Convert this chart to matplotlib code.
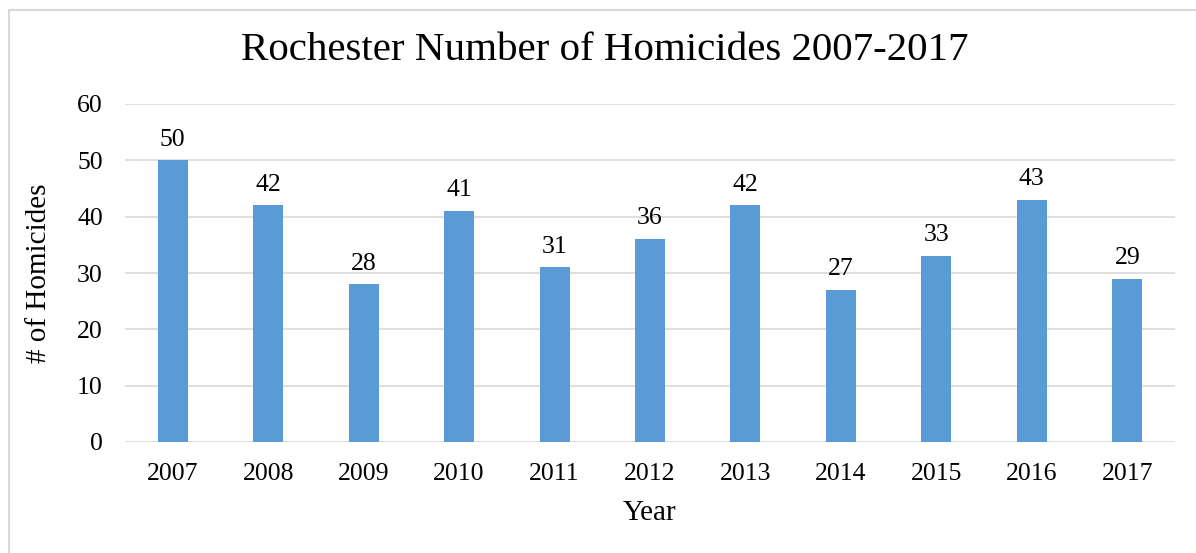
import matplotlib
matplotlib.use('Agg')
import matplotlib.pyplot as plt
from matplotlib.patches import Rectangle

years = ['2007', '2008', '2009', '2010', '2011', '2012', '2013', '2014', '2015', '2016', '2017']
homicides = [50, 42, 28, 41, 31, 36, 42, 27, 33, 43, 29]
yticks = [0, 10, 20, 30, 40, 50, 60]

plt.rcParams['font.family'] = ['Liberation Serif', 'DejaVu Serif']

fig = plt.figure(figsize=(11.96, 5.53), dpi=100)
ax = fig.add_axes([125 / 1196, 1 - 442 / 553, 1050 / 1196, 338 / 553])

# outer chart border (runs off the right/bottom edges)
fig.patches.append(Rectangle((9 / 1196, -0.1), 1.2, 1 - 10 / 553 + 0.1,
                             transform=fig.transFigure, fill=False,
                             edgecolor='#D9D9D9', linewidth=1.5))

x = range(len(years))
bars = ax.bar(x, homicides, width=0.315, color='#5B9BD5', zorder=3)
for xi, v in zip(x, homicides):
    ax.annotate(str(v), (xi, v), xytext=(0, 7), textcoords='offset points',
                ha='center', va='bottom', fontsize=18.5)

ax.set_xlim(-0.5, len(years) - 0.5)
ax.set_ylim(0, 60)
ax.set_yticks(yticks)
ax.set_xticks(list(x))
ax.set_xticklabels(years)
ax.tick_params(axis='both', length=0, labelsize=18.5)
ax.tick_params(axis='y', pad=16)
ax.tick_params(axis='x', pad=15)
ax.grid(axis='y', color='#D9D9D9', linewidth=1.2, zorder=0)
for s in ax.spines.values():
    s.set_visible(False)

ax.set_xlabel('Year', fontsize=21, labelpad=11)
ax.set_ylabel('# of Homicides', fontsize=21, labelpad=18)
fig.text(605 / 1196, 1 - 50 / 553, 'Rochester Number of Homicides 2007-2017',
         ha='center', va='center', fontsize=29.5)

fig.savefig('out.png', dpi=100)
